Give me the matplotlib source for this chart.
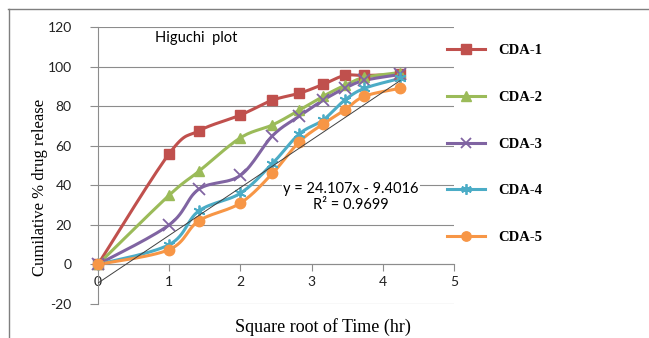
import numpy as np
import matplotlib.pyplot as plt
from matplotlib.lines import Line2D

plt.rcParams["axes.unicode_minus"] = False

# Release data vs square root of time (hr)
sqrt_time = np.sqrt([0, 1, 2, 4, 6, 8, 10, 12, 14, 18])
cda1 = [0, 56, 67.5, 75.5, 83, 86.5, 91, 95.5, 95.5, 96]
cda2 = [0, 35, 47, 64, 70.5, 78, 85, 90.5, 94.5, 97]
cda3 = [0, 20, 38, 45, 65, 75, 83, 89, 93, 96]
cda4 = [0, 10, 27, 36, 51, 66, 73, 83, 89, 94]
cda5 = [0, 7.5, 22, 31, 46, 62, 71, 78, 85, 89]
series_names = ["CDA-1", "CDA-2", "CDA-3", "CDA-4", "CDA-5"]
slope, intercept, r2 = 24.107, -9.4016, 0.9699

colors = ["#C0504D", "#9BBB59", "#8064A2", "#4BACC6", "#F79646"]
markers = ["s", "^", "x", (6, 2, 0), "o"]
msizes = [7.5, 7.5, 8, 8.5, 7.5]


def smooth(x, y, n=16):
    # Catmull-Rom curve through the points (same look as Excel's smoothed line)
    pts = np.column_stack([x, y]).astype(float)
    p = np.vstack([pts[0], pts, pts[-1]])
    t = np.linspace(0, 1, n)[:, None]
    out = []
    for i in range(len(pts) - 1):
        p0, p1, p2, p3 = p[i], p[i + 1], p[i + 2], p[i + 3]
        seg = 0.5 * (2 * p1 + (-p0 + p2) * t
                     + (2 * p0 - 5 * p1 + 4 * p2 - p3) * t ** 2
                     + (-p0 + 3 * p1 - 3 * p2 + p3) * t ** 3)
        out.append(seg if i == 0 else seg[1:])
    out = np.vstack(out)
    return out[:, 0], out[:, 1]


fig = plt.figure(figsize=(6.49, 3.38), dpi=100)
ax = fig.add_axes([98 / 649, 34 / 338, 356 / 649, 277 / 338])

grid_col = "#8C8C8C"
handles = []
for name, ys, c, m, ms in zip(series_names, [cda1, cda2, cda3, cda4, cda5],
                              colors, markers, msizes):
    sx, sy = smooth(sqrt_time, ys)
    ax.plot(sx, sy, color=c, lw=2.2, zorder=3, clip_on=False)
    mew = 1.3 if m in ("x", (6, 2, 0)) else 1
    ax.plot(sqrt_time, ys, ls="none", marker=m, ms=ms, color=c, mec=c,
            mew=mew, zorder=4, clip_on=False)
    handles.append(Line2D([], [], color=c, lw=2.2, marker=m, ms=ms * 0.9,
                          mew=mew, label=name))

# linear trendline
tx = np.array([0, sqrt_time[-1]])
ax.plot(tx, slope * tx + intercept, color="#404040", lw=0.7, zorder=5)

ax.set_xlim(0, 5)
ax.set_ylim(-20, 120)
ax.set_xticks(range(0, 6))
ax.set_yticks(range(-20, 121, 20))
ax.yaxis.grid(True, color=grid_col, lw=0.8)
ax.set_axisbelow(True)

for s in ["top", "right"]:
    ax.spines[s].set_visible(False)
ax.spines["bottom"].set_position(("data", 0))
ax.spines["bottom"].set_color(grid_col)
ax.spines["left"].set_color(grid_col)
ax.tick_params(axis="x", direction="out", length=5, color=grid_col,
               labelsize=10, pad=3)
ax.tick_params(axis="y", direction="out", length=6, color=grid_col,
               labelsize=10, pad=13)
for lab in ax.get_xticklabels() + ax.get_yticklabels():
    lab.set_family("Lato")
    lab.set_color("#222222")

fig.text(155 / 649, 1 - 38 / 338, "Higuchi  plot", fontsize=10.5,
         family="Lato", va="center")

eq = "y = 24.107x - 9.4016\nR² = 0.9699"
fig.text(351 / 649, 1 - 197 / 338, eq, ha="center", va="center",
         fontsize=10.5, family="Lato", linespacing=1.1,
         bbox=dict(facecolor="white", edgecolor="none", pad=1))

fig.text(40 / 649, 1 - 187 / 338, "Cumilative % drug release", rotation=90,
         ha="center", va="center", fontsize=12, family="Liberation Serif")
fig.text(323 / 649, 1 - 327 / 338, "Square root of Time (hr)",
         ha="center", va="center", fontsize=13, family="Liberation Serif")

fig.legend(handles=handles, loc="upper left",
           bbox_to_anchor=(447 / 649, 1 - 44 / 338), frameon=False,
           prop=dict(family="Liberation Serif", weight="bold", size=10.5),
           handlelength=2.6, handletextpad=0.9, labelspacing=2.3,
           borderpad=0, borderaxespad=0)

# outer frame (top and left edges)
fig.add_artist(Line2D([8 / 649, 1], [1 - 9 / 338] * 2, color="#7F7F7F",
                      lw=1, transform=fig.transFigure))
fig.add_artist(Line2D([9 / 649] * 2, [0, 1 - 9 / 338], color="#7F7F7F",
                      lw=1, transform=fig.transFigure))

fig.savefig("out.png", dpi=100)
